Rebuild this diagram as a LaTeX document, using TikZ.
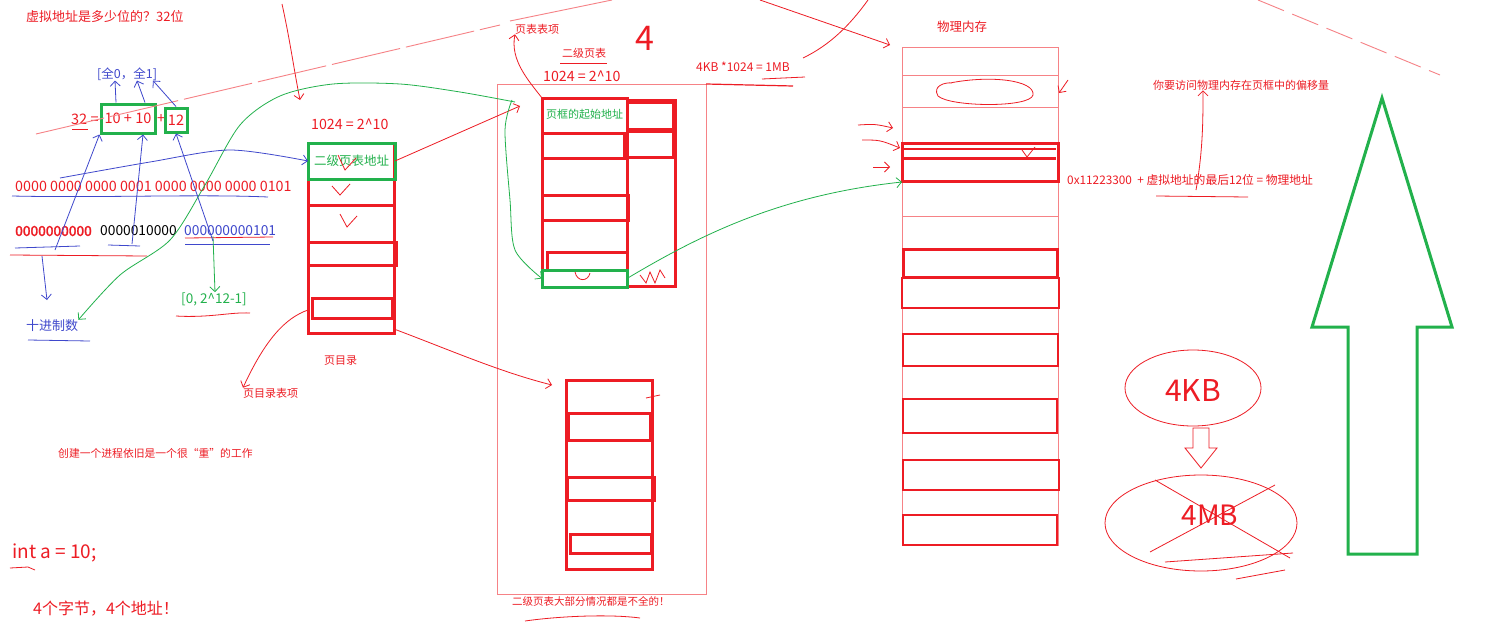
\documentclass[tikz,border=0pt]{standalone}
\usepackage{fontspec}
\setmainfont{Noto Sans CJK SC}[AutoFakeBold=2]
\usetikzlibrary{arrows.meta}
\definecolor{pred}{RGB}{237,28,36}
\definecolor{lred}{RGB}{246,130,134}
\definecolor{pgreen}{RGB}{34,177,76}
\definecolor{pblue}{RGB}{63,72,204}
\begin{document}
\begin{tikzpicture}[x=1pt,y=-1pt,
  lbl/.style={anchor=west, inner sep=0pt, text=pred},
  fs/.style={font=\fontsize{#1}{#1}\selectfont},
  thickbox/.style={draw=pred, line width=3pt},
  thinbox/.style={draw=lred, line width=1pt},
  midbox/.style={draw=pred, line width=1.2pt},
  gbox/.style={draw=pgreen, line width=3pt},
  sk/.style={draw=pred, line width=0.8pt},
  skl/.style={draw=lred, line width=0.9pt},
  skg/.style={draw=pgreen, line width=0.8pt},
  skb/.style={draw=pblue, line width=0.8pt},
  arr/.style={-{Straight Barb[length=5pt,width=10pt]}},
  blank/.style={anchor=north west, inner sep=0pt, outer sep=0pt}
]
\useasboundingbox[fill=white] (0,0) rectangle (1488,624);

% ---------------- left texts ----------------
\node[lbl,fs=13] (title) at (26,17) {虚拟地址是多少位的？32位};
\node[lbl,fs=12.5,text=pblue] (range) at (97,74) {[全0，全1]};
\node[lbl,fs=14.5] (n32) at (71,119) {32 =};
\node[gbox,inner sep=0pt,minimum width=54pt,minimum height=29pt,fs=14.5,text=pred] (ten) at (128,118.5) {10 + 10};
\node[lbl,fs=14.5] (plus) at (157,119) {+};
\node[gbox,inner sep=0pt,minimum width=22pt,minimum height=24pt,fs=14.5,text=pred] (twelve) at (176,120) {12};
\node[lbl,fs=14.3] (bits) at (15,186) {0000 0000 0000 0001 0000 0000 0000 0101};
\node[lbl,fs=13.8] (bitsa) at (15,231) {\bfseries 0000000000};
\node[lbl,fs=13.8,text=black] (bitsb) at (100,231) {0000010000};
\node[lbl,fs=13.8,text=pblue] (bitsc) at (184,231) {000000000101};
\node[lbl,fs=13.5,text=pgreen] (offr) at (181,299) {[0, 2\textasciicircum 12-1]};
\node[lbl,fs=13,text=pblue] (dec) at (26,326) {十进制数};
\node[lbl,fs=11] (pdlab) at (324,361) {页目录};
\node[lbl,fs=11] (pdelab) at (243,393) {页目录表项};
\node[lbl,fs=10.8] (heavy) at (58,453) {创建一个进程依旧是一个很“重”的工作};
\node[lbl,fs=19] (inta) at (12,553) {int a = 10;};
\node[lbl,fs=16] (bytes) at (33,609) {4个字节，4个地址！};

% underlines left
\draw[sk] (72,129) -- (88,129);
\draw[skb] (12,196) .. controls (100,198) and (200,194) .. (268,197);
\draw[skb] (15,248) -- (80,246);
\draw[skb] (108,245) -- (140,246);
\draw[skb] (185,244) -- (270,244);
\draw[sk] (10,255) -- (147,256);
\draw[sk] (185,238) -- (273,237);
\draw[sk] (176,316) .. controls (210,318) and (230,312) .. (250,313);
\draw[skb] (28,340) -- (90,341);
\draw[sk] (10,568) -- (28,567) -- (35,570);

% ---------------- page directory ----------------
\node[lbl,fs=14.2] (pd1024) at (311,124) {1024 = 2\textasciicircum 10};
\node[thickbox,blank,minimum width=86pt,minimum height=190pt] (pd) at (308,143) {};
\node[gbox,blank,minimum width=87pt,minimum height=36pt,text=pgreen,fs=12.5] (pdg) at (308,143) {二级页表地址};
\draw[thickbox] (308,205) -- (394,205);
\draw[thickbox] (308,242) rectangle (396,265);
\draw[thickbox] (312,298) rectangle (392,318);
\draw[sk] (332,186) -- (340,195) -- (350,184);
\draw[sk] (340,214) -- (347,227) -- (357,216);
\draw[sk] (338,155) -- (345,170) -- (356,158);

% ---------------- second-level page table ----------------
\node[lbl,fs=11] (ptelab) at (515,29) {页表表项};
\node[lbl,fs=11] (ptlab) at (562,53) {二级页表};
\draw[sk] (560,63) -- (607,63);
\node[lbl,fs=14.2] (pt1024) at (543,76) {1024 = 2\textasciicircum 10};
\node[text=pred,fs=34,inner sep=0pt] (four) at (645,38) {4};
\node[lbl,fs=12] (mb) at (696,67) {4KB *1024 = 1MB};
\draw[sk] (762,79) -- (805,77);

\node[thinbox,blank,minimum width=209pt,minimum height=510pt] (ptouter) at (497,84) {};
\draw[midbox] (706,84) -- (793,86);
\draw[thickbox] (542,98) rectangle (627,287);
\draw[thickbox] (627,100) rectangle (675,286);
\draw[midbox] (628,103) rectangle (673,129);
\draw[thickbox] (627,131) rectangle (673,157);
\node[blank,minimum width=85pt,minimum height=32pt,text=pgreen,fs=11] (ptr1) at (542,98) {页框的起始地址};
\draw[thickbox] (542,133) rectangle (624,158);
\draw[thickbox] (542,195) rectangle (628,220);
\draw[thickbox] (547,252) rectangle (627,270);
\node[gbox,blank,minimum width=85pt,minimum height=17pt] (ptg) at (542,270) {};
\draw[sk] (575,272) .. controls (577,282) and (588,282) .. (590,273);
\draw[sk] (640,275) -- (646,283) -- (650,272) -- (655,283) -- (660,270) -- (665,278);

% lower table
\node[thickbox,blank,minimum width=86pt,minimum height=189pt] (lt) at (566,380) {};
\draw[thickbox] (568,413) rectangle (650,440);
\draw[thickbox] (567,477) rectangle (654,500);
\draw[thickbox] (570,534) rectangle (651,553);
\draw[sk] (646,398) -- (660,395);
\node[lbl,fs=10.5] (notfull) at (512,601) {二级页表大部分情况都是不全的！};
\draw[sk] (525,621) .. controls (560,616) and (610,614) .. (640,618);

% ---------------- physical memory ----------------
\node[lbl,fs=12.5] (pmlab) at (937,27) {物理内存};
\node[thinbox,blank,minimum width=156pt,minimum height=498pt] (pm) at (902,47) {};
\draw[thinbox] (902,75) -- (1058,75);
\draw[thinbox] (902,107) -- (1058,107);
\draw[sk] (950,83) .. controls (990,75) and (1035,80) .. (1033,95)
  .. controls (1030,108) and (950,107) .. (938,96)
  .. controls (932,86) and (945,82) .. (952,83);
\draw[thickbox] (902,143) rectangle (1058,181);
\draw[thickbox] (904,158) -- (1056,158);
\draw[midbox] (904,149) -- (1056,149);
\draw[sk] (1022,150) -- (1027,157) -- (1035,147);
\draw[thinbox] (902,216) -- (1058,216);
\draw[thickbox] (903,249) rectangle (1057,277);
\draw[midbox] (902,278) rectangle (1059,308);
\draw[midbox] (903,334) rectangle (1058,366);
\draw[midbox] (903,399) rectangle (1057,433);
\draw[midbox] (903,460) rectangle (1059,490);
\draw[midbox] (903,515) rectangle (1057,545);
\coordinate (pmrow) at (902,182);

\node[lbl,fs=11.8] (fml) at (1067,180) {0x11223300~~+ 虚拟地址的最后12位 = 物理地址};
\draw[sk] (1156,196) -- (1248,197);
\node[lbl,fs=11] (offs) at (1153,85) {你要访问物理内存在页框中的偏移量};

% big green arrow
\draw[pgreen,line width=3pt,line join=miter] (1382,98) -- (1452,327) -- (1417,327)
  -- (1417,554) -- (1348,554) -- (1348,327) -- (1312,327) -- cycle;

% 4KB -> 4MB
\draw[sk] (1193,388) ellipse [x radius=68pt, y radius=38pt];
\node[text=pred,fs=30,inner sep=0pt] (kb4) at (1193,390) {4KB};
\draw[sk] (1193,428) -- (1209,428) -- (1209,448) -- (1217,448) -- (1201,468)
  -- (1185,448) -- (1193,448) -- cycle;
\draw[sk] (1201,523) ellipse [x radius=96pt, y radius=48pt];
\node[text=pred,fs=28,inner sep=0pt] (mb4) at (1210,515) {4MB};
\draw[sk] (1155,480) -- (1290,558);
\draw[sk] (1150,552) -- (1275,485);
\draw[sk] (1165,562) -- (1293,553);
\draw[sk] (1236,579) -- (1285,570);

% ---------------- connectors ----------------
% red
\draw[skl,dash pattern=on 70pt off 6pt] (36,134) -- (500,25);
\draw[skl] (510,21) -- (612,0);
\draw[skl,dash pattern=on 28pt off 9pt] (1258,0) -- (1440,75);
\draw[sk,arr] (282,4) .. controls (290,40) and (294,70) .. (300,100);
\draw[sk,arr] (pdg.east) -- ([xshift=-22pt,yshift=8pt]ptr1.west);
\draw[sk,arr] (ptr1.north west) .. controls (528,80) and (510,60) .. (ptelab.south west);
\draw[sk,arr] ([yshift=4pt]pd.south east) .. controls (450,350) and (500,372) .. ([xshift=-14pt,yshift=-5pt]lt.north west);
\draw[sk,arr] ([yshift=-167pt]pd.north west) .. controls (285,318) and (265,340) .. (pdelab.north west);
\draw[sk,arr] (760,0) -- ([xshift=-12pt,yshift=2pt]pm.north west);
\draw[sk] (868,0) .. controls (850,25) and (830,45) .. (803,58);
\draw[sk,arr] (858,125) .. controls (875,124) .. (893,128);
\draw[sk,arr] (862,140) .. controls (880,140) .. (900,148);
\draw[sk,arr] (873,167) -- (890,167);
\draw[sk,arr] (1068,80) -- (1059,93);
\draw[sk,arr] ([xshift=129pt,yshift=-10pt]fml.west) .. controls (1203,150) and (1203,120) .. ([xshift=50pt]offs.south west);

% green
\draw[skg,arr] plot[smooth] coordinates {(515,102) (460,92) (400,84) (333,84) (280,96) (240,125) (205,185) (170,240) (120,275) (dec.north east)};
\draw[skg,arr] plot[smooth] coordinates {(512,100) (505,130) (510,200) (515,250) (ptg.west)};
\draw[skg,arr] (ptg.east) .. controls (700,235) and (780,195) .. (pmrow);
\draw[skg,arr] ([xshift=29pt]bitsc.south west) -- ([xshift=34pt]offr.north west);

% blue
\draw[skb,arr] (55,250) -- (ten.south west);
\draw[skb,arr] (132,244) -- ([xshift=15pt]ten.south);
\draw[skb,arr] (213,241) -- (twelve.south);
\draw[skb,arr] ([xshift=-12pt]ten.north) -- ([xshift=18pt]range.south west);
\draw[skb,arr] ([xshift=17pt]ten.north) -- ([xshift=40pt]range.south west);
\draw[skb,arr] (twelve.north) -- ([xshift=56pt]range.south west);
\draw[skb,arr] plot[smooth] coordinates {(60,178) (150,162) (230,150) (pdg.west)};
\draw[skb,arr] (42,256) -- (47,300);
\end{tikzpicture}
\end{document}
